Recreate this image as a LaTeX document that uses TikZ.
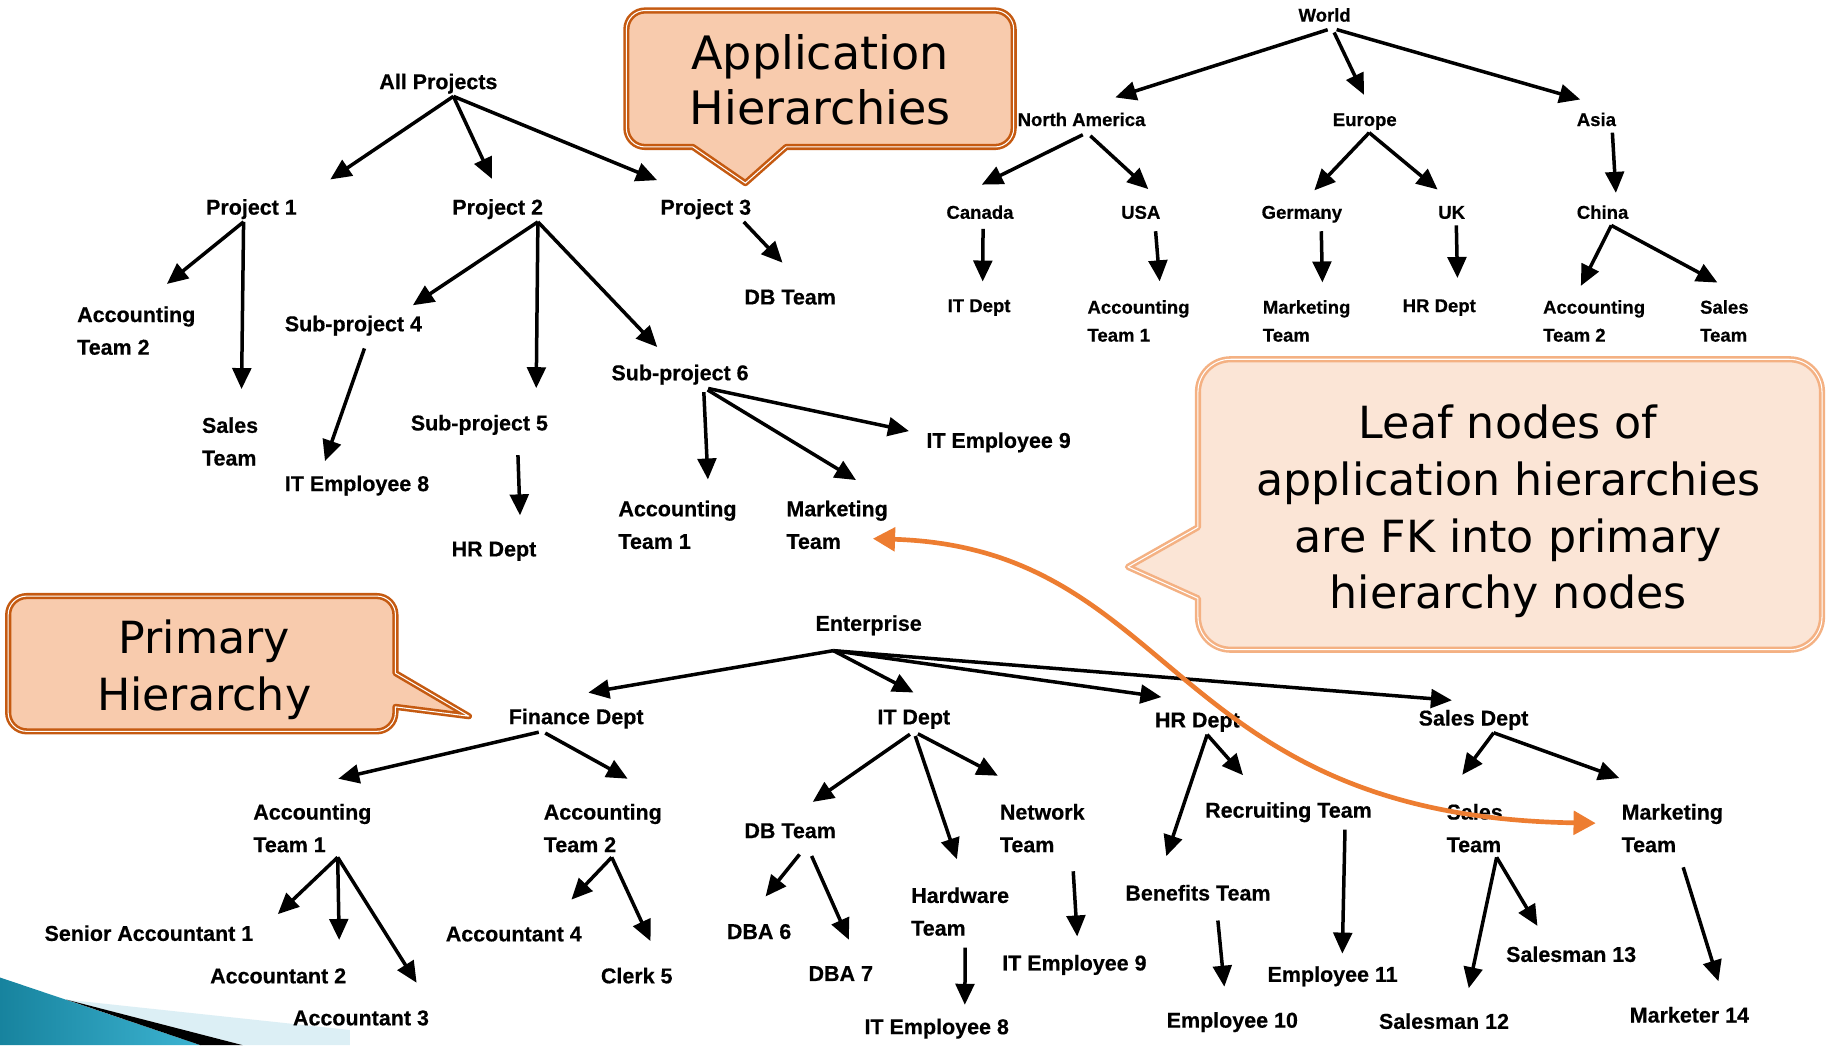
\documentclass[tikz,border=0pt]{standalone}
\usepackage{fontspec}
\setmainfont{Liberation Sans}[FakeBold=0.5]
\newfontfamily\calloutfont{DejaVu Sans}
\usetikzlibrary{arrows.meta}

\definecolor{calfill}{HTML}{F8CBAD}
\definecolor{calline}{HTML}{C55A11}
\definecolor{leaffill}{HTML}{FBE5D6}
\definecolor{leafline}{HTML}{F4B183}
\definecolor{fkorange}{HTML}{ED7D31}
\definecolor{decodark}{HTML}{17839E}
\definecolor{decolight}{HTML}{3DB4D2}
\definecolor{decopale}{HTML}{DCEFF5}

\tikzset{
  lab/.style={anchor=west,inner xsep=2pt,inner ysep=2pt,text height=14pt,text depth=4pt,font=\fontsize{18.4pt}{28pt}\selectfont\bfseries},
  labb/.style={anchor=west,align=left,inner xsep=2pt,inner ysep=4pt,font=\fontsize{18.4pt}{28pt}\selectfont\bfseries},
  sml/.style={anchor=west,inner xsep=2pt,inner ysep=2pt,text height=12pt,text depth=3.5pt,font=\fontsize{15.9pt}{24pt}\selectfont\bfseries},
  smlb/.style={anchor=west,align=left,inner xsep=2pt,inner ysep=4pt,font=\fontsize{15.9pt}{24pt}\selectfont\bfseries},
  arr/.style={-{Triangle[length=18pt,width=16pt]},line width=3pt},
  fk/.style={{Triangle[length=19pt,width=20pt]}-{Triangle[length=19pt,width=20pt]},line width=4pt,fkorange},
  callout/.style={fill=calfill,draw=calline,line width=2.2pt,double=white,double distance=0.9pt,line join=round},
  leafcallout/.style={fill=leaffill,draw=leafline,line width=2.2pt,double=white,double distance=0.9pt,line join=round},
  calltext/.style={align=center,inner sep=0pt,font=\calloutfont\fontsize{38pt}{48.6pt}\selectfont}
}

\begin{document}
\begin{tikzpicture}[x=1pt,y=-1pt]
\useasboundingbox (0,0) rectangle (1568,896) ;
\fill[white] (0,0) rectangle (1568,896) ;

% corner decoration
\shade[left color=decodark,right color=decolight] (0,838) -- (172,896) -- (0,896) -- cycle ;
\fill[decopale] (57,857) -- (300,883) -- (300,896) -- (208,896) -- cycle ;
\fill[black] (57,857) -- (208,896) -- (172,896) -- cycle ;

% callouts
\path[callout] (594,126) -- (553,126) .. controls (544.2,126) and (537,118.8) .. (537,110) -- (537,25) .. controls (537,16.2) and (544.2,9) .. (553,9) -- (853,9) .. controls (861.8,9) and (869,16.2) .. (869,25) -- (869,110) .. controls (869,118.8) and (861.8,126) .. (853,126) -- (674,126) -- (639,157) -- cycle ;
\node[calltext,font=\calloutfont\fontsize{39.5pt}{47.2pt}\selectfont] (apptxt) at (703,68.6) {Application\\Hierarchies} ;

\path[callout] (339,577) -- (339,527) .. controls (339,518.2) and (331.8,511) .. (323,511) -- (23,511) .. controls (14.2,511) and (7,518.2) .. (7,527) -- (7,611) .. controls (7,619.8) and (14.2,627) .. (23,627) -- (323,627) .. controls (331.8,627) and (339,619.8) .. (339,611) -- (339,606) -- (402,614) -- cycle ;
\node[calltext] (primtxt) at (175,574.4) {Primary\\Hierarchy} ;

\path[leafcallout] (1027,452) -- (1027,336) .. controls (1027,320.5) and (1039.5,308) .. (1055,308) -- (1534,308) .. controls (1549.5,308) and (1562,320.5) .. (1562,336) -- (1562,529) .. controls (1562,544.5) and (1549.5,557) .. (1534,557) -- (1055,557) .. controls (1039.5,557) and (1027,544.5) .. (1027,529) -- (1027,513) -- (967,486) -- cycle ;
\node[calltext] (leaftxt) at (1293,438.7) {Leaf nodes of\\application hierarchies\\are FK into primary\\hierarchy nodes} ;

% projects
\node[lab] (allproj) at (323,71.4) {All Projects} ;
\node[lab] (proj1) at (174.5,179) {Project 1} ;
\node[lab] (proj2) at (385.6,179) {Project 2} ;
\node[lab] (proj3) at (564,179) {Project 3} ;
\node[labb] (pAcc2) at (64,283.5) {Accounting\\Team 2} ;
\node[labb] (pSales) at (171,378.5) {Sales\\Team} ;
\node[lab] (sub4) at (242,279) {Sub-project 4} ;
\node[lab] (sub5) at (350,364) {Sub-project 5} ;
\node[lab] (sub6) at (522,321) {Sub-project 6} ;
\node[lab] (pEmp8) at (242,416) {IT Employee 8} ;
\node[lab] (pHR) at (385,472) {HR Dept} ;
\node[labb] (pAcc1) at (528,450) {Accounting\\Team 1} ;
\node[labb] (pMkt) at (672,450) {Marketing\\Team} ;
\node[lab] (pEmp9) at (792,379) {IT Employee 9} ;
\node[lab] (pDB) at (636,256) {DB Team} ;

\draw[arr,shorten >=32pt] (allproj.-41) to (proj1.10) ;
\draw[arr,shorten >=16pt] (allproj.-41) to (proj2.81) ;
\draw[arr,shorten >=35pt] (allproj.-41) to (proj3.130) ;
\draw[arr,shorten >=24pt] (proj1.-121) to (pAcc2.73) ;
\draw[arr,shorten >=20pt] (proj1.-121) to (pSales.69) ;
\draw[arr,shorten >=11pt] (proj2.-18) to (sub4.15) ;
\draw[arr,shorten >=20pt] (proj2.-18) to (sub5.13) ;
\draw[arr,shorten >=17pt] (proj2.-18) to (sub6.125) ;
\draw[arr,shorten <=9pt,shorten >=10pt] (sub4.-42) to (pEmp8.160) ;
\draw[arr,shorten <=15pt,shorten >=19pt] (sub5.-19) to (pHR.26) ;
\draw[arr,shorten <=4pt,shorten >=14pt] (sub6.-29) to (pAcc1.43) ;
\draw[arr,shorten <=4pt,shorten >=26pt] (sub6.-29) to (pMkt.33) ;
\draw[arr,shorten <=4pt,shorten >=13pt] (sub6.-29) to (pEmp9.174) ;
\draw[arr,shorten >=27pt] (proj3.-19) to (pDB.43) ;

% world
\node[sml] (world) at (1111,14.3) {World} ;
\node[sml] (namer) at (870.2,103.8) {North America} ;
\node[sml] (europe) at (1140.4,103.8) {Europe} ;
\node[sml] (asia) at (1349.6,103.8) {Asia} ;
\node[sml] (canada) at (809.2,183.3) {Canada} ;
\node[sml] (usa) at (959,183.3) {USA} ;
\node[sml] (germany) at (1079.4,183.3) {Germany} ;
\node[sml] (uk) at (1230.8,183.3) {UK} ;
\node[sml] (china) at (1349.6,183.3) {China} ;
\node[sml] (wIT) at (810.2,263.3) {IT Dept} ;
\node[smlb] (wAcc1) at (930.1,275.2) {Accounting\\Team 1} ;
\node[smlb] (wMkt) at (1080.4,275.2) {Marketing\\Team} ;
\node[sml] (wHR) at (1200.3,263.3) {HR Dept} ;
\node[smlb] (wAcc2) at (1320.7,275.2) {Accounting\\Team 2} ;
\node[smlb] (wSales) at (1455.3,275.2) {Sales\\Team} ;

\draw[arr,shorten <=4pt,shorten >=34pt] (world.-57) to (namer.109) ;
\draw[arr,shorten <=4pt,shorten >=14pt] (world.-57) to (europe.62) ;
\draw[arr,shorten <=4pt,shorten >=31pt] (world.-57) to (asia.32) ;
\draw[arr,shorten <=4pt,shorten >=34pt] (namer.-65) to (canada.161) ;
\draw[arr,shorten <=4pt,shorten >=17pt] (namer.-65) to (usa.27) ;
\draw[arr,shorten >=14pt] (europe.-69) to (germany.84) ;
\draw[arr,shorten >=17pt] (europe.-69) to (uk.84) ;
\draw[arr,shorten >=8pt] (asia.-36) to (china.40) ;
\draw[arr,shorten <=3pt,shorten >=12pt] (canada.-75) to (wIT.73) ;
\draw[arr,shorten <=5pt,shorten >=12pt] (usa.-39) to (wAcc1.49) ;
\draw[arr,shorten <=5pt,shorten >=11pt] (germany.-31) to (wMkt.58) ;
\draw[arr,shorten >=15pt] (uk.-68) to (wHR.32) ;
\draw[arr,shorten >=9pt] (china.-53) to (wAcc2.125) ;
\draw[arr,shorten >=23pt] (china.-53) to (wSales.57) ;

% enterprise
\node[lab,outer ysep=11pt] (ent) at (697,535.8) {Enterprise} ;
\node[lab] (fin) at (434,615.8) {Finance Dept} ;
\node[lab] (itd) at (750,616) {IT Dept} ;
\node[lab] (hrd) at (988,618.6) {HR Dept} ;
\node[lab] (sld) at (1214,617) {Sales Dept} ;
\node[labb] (eAcc1) at (215,710) {Accounting\\Team 1} ;
\node[labb] (eAcc2) at (464,710) {Accounting\\Team 2} ;
\node[lab] (sen1) at (36,801.6) {Senior Accountant 1} ;
\node[lab] (acc2n) at (178,838) {Accountant 2} ;
\node[lab] (acc3n) at (249,874) {Accountant 3} ;
\node[lab] (acc4n) at (380,802) {Accountant 4} ;
\node[lab] (clerk5) at (513,838) {Clerk 5} ;
\node[lab] (edb) at (636,713.5) {DB Team} ;
\node[lab] (dba6) at (621,800) {DBA 6} ;
\node[lab] (dba7) at (691,836) {DBA 7} ;
\node[labb] (hw) at (779,781.5) {Hardware\\Team} ;
\node[lab] (eEmp8) at (739,881.6) {IT Employee 8} ;
\node[labb] (net) at (855,710) {Network\\Team} ;
\node[lab] (eEmp9) at (857,827) {IT Employee 9} ;
\node[lab] (recr) at (1031,696) {Recruiting Team} ;
\node[lab] (bene) at (962.6,767) {Benefits Team} ;
\node[lab] (emp11) at (1084.5,836.7) {Employee 11} ;
\node[lab] (emp10) at (998,876) {Employee 10} ;
\node[labb] (eSales) at (1238,710) {Sales\\Team} ;
\node[labb] (eMkt) at (1388,710) {Marketing\\Team} ;
\node[lab] (sm12) at (1180,877) {Salesman 12} ;
\node[lab] (sm13) at (1289,819.6) {Salesman 13} ;
\node[lab] (mk14) at (1395,871.6) {Marketer 14} ;

\draw[arr,shorten >=64pt] (ent.-144) to (fin.168) ;
\draw[arr,shorten >=24pt] (ent.-144) to (itd.28) ;
\draw[arr,shorten >=70pt] (ent.-144) to (hrd.north east) ;
\draw[arr,shorten >=68pt] (ent.-144) to (sld.north east) ;
\draw[arr,shorten <=3pt,shorten >=77pt] (fin.-159) to (eAcc1.north west) ;
\draw[arr,shorten <=3pt,shorten >=36pt] (fin.-159) to (eAcc2.north east) ;
\draw[arr,shorten >=26pt] (eAcc1.-49) to (sen1.east) ;
\draw[arr,shorten >=21pt] (eAcc1.-49) to (acc2n.12) ;
\draw[arr,shorten >=24pt] (eAcc1.-49) to (acc3n.north east) ;
\draw[arr,shorten >=27pt] (eAcc2.-73) to (acc4n.20) ;
\draw[arr,shorten >=22pt] (eAcc2.-73) to (clerk5.28) ;
\draw[arr,shorten <=4pt,shorten >=26pt] (itd.south) to (edb.100) ;
\draw[arr,shorten <=4pt,shorten >=21pt] (itd.south) to (hw.81) ;
\draw[arr,shorten <=4pt,shorten >=43pt] (itd.south) to (net.north) ;
\draw[arr,shorten <=10pt,shorten >=26pt] (edb.-38) to (dba6.134) ;
\draw[arr,shorten <=10pt,shorten >=21pt] (edb.-38) to (dba7.36) ;
\draw[arr,shorten <=6pt,shorten >=9pt] (hw.-80) to (eEmp8.25) ;
\draw[arr,shorten <=12pt,shorten >=13pt] (net.-44) to (eEmp9.74) ;
\draw[arr,shorten >=23pt] (hrd.-53) to (bene.162) ;
\draw[arr,shorten >=27pt] (hrd.-53) to (recr.152) ;
\draw[arr,shorten <=4pt,shorten >=8pt] (recr.-13) to (emp11.54) ;
\draw[arr,shorten <=11pt,shorten >=19pt] (bene.-35) to (emp10.114) ;
\draw[arr,shorten >=26pt] (sld.-33) to (eSales.north west) ;
\draw[arr,shorten >=53pt] (sld.-33) to (eMkt.80) ;
\draw[arr,shorten >=19pt] (eSales.-53) to (sm12.33) ;
\draw[arr,shorten >=17pt] (eSales.-53) to (sm13.151) ;
\draw[arr,shorten <=9pt,shorten >=20pt] (eMkt.-75) to (mk14.20) ;

% foreign key link
\draw[fk,shorten <=-15pt,shorten >=20pt] (pMkt.-15) .. controls (1010,470) and (1000,700) .. (eMkt.175) ;
\end{tikzpicture}
\end{document}
